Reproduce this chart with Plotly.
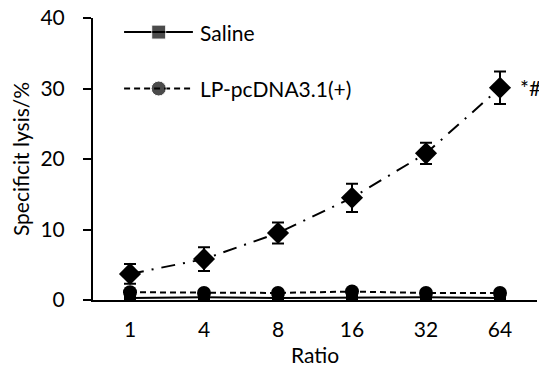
import plotly.graph_objects as go

ratios = ["1", "4", "8", "16", "32", "64"]
saline = [0.3, 0.4, 0.3, 0.4, 0.4, 0.3]
saline_err = [0.5, 0.4, 0.5, 0.5, 0.4, 0.5]
lp_pcdna = [1.1, 1.0, 1.0, 1.2, 1.0, 1.0]
lp_pcdna_err = [0.4, 0.4, 0.4, 0.4, 0.4, 0.4]
lp_gene = [3.7, 5.8, 9.5, 14.5, 20.8, 30.1]
lp_gene_err = [1.4, 1.7, 1.5, 2.0, 1.5, 2.3]
y_ticks = [0, 10, 20, 30, 40]

FONT = "Lato"
FS = 21
fig = go.Figure()

fig.add_trace(go.Scatter(
    x=ratios, y=lp_gene, mode="lines+markers",
    line=dict(color="black", width=2, dash="14px,8px,2px,8px"),
    marker=dict(symbol="diamond", size=17, color="black"),
    error_y=dict(type="data", array=lp_gene_err, color="black", thickness=2, width=6),
    showlegend=False))
fig.add_trace(go.Scatter(
    x=ratios, y=lp_pcdna, mode="lines+markers", name="LP-pcDNA3.1(+)",
    line=dict(color="black", width=2, dash="6px,4px"),
    marker=dict(symbol="circle", size=14, color="black"),
    error_y=dict(type="data", array=lp_pcdna_err, color="black", thickness=2, width=4),
    showlegend=False))
fig.add_trace(go.Scatter(
    x=ratios, y=saline, mode="lines+markers", name="Saline",
    line=dict(color="black", width=2),
    marker=dict(symbol="square", size=12, color="black"),
    error_y=dict(type="data", array=saline_err, color="black", thickness=2, width=4),
    showlegend=False))

# legend samples drawn on an overlay axis in plot-fraction units
fig.add_trace(go.Scatter(
    x=[0.07, 0.148, 0.225], y=[0.95, 0.95, 0.95], xaxis="x2", yaxis="y2",
    mode="lines+markers", line=dict(color="black", width=2),
    marker=dict(symbol="square", size=[0, 14, 0], color="black"),
    showlegend=False, hoverinfo="skip"))
fig.add_trace(go.Scatter(
    x=[0.07, 0.148, 0.225], y=[0.75, 0.75, 0.75], xaxis="x2", yaxis="y2",
    mode="lines+markers", line=dict(color="black", width=2, dash="6px,4px"),
    marker=dict(symbol="circle", size=[0, 15, 0], color="black"),
    showlegend=False, hoverinfo="skip"))

fig.add_annotation(x=0.236, y=0.95, xref="x2", yref="y2", text="Saline",
                   showarrow=False, xanchor="left", yanchor="middle",
                   font=dict(family=FONT, size=FS, color="black"))
fig.add_annotation(x=0.236, y=0.75, xref="x2", yref="y2", text="LP-pcDNA3.1(+)",
                   showarrow=False, xanchor="left", yanchor="middle",
                   font=dict(family=FONT, size=FS, color="black"))
fig.add_annotation(x=1, y=lp_gene[-1], xref="paper", yref="y", text="*#",
                   showarrow=False, xanchor="left", yanchor="middle", xshift=-19,
                   font=dict(family=FONT, size=FS, color="black"))

fig.update_layout(
    template="none",
    width=547, height=380,
    margin=dict(l=85, r=18, t=10, b=88),
    paper_bgcolor="white", plot_bgcolor="white",
    font=dict(family=FONT, size=FS, color="black"),
    xaxis=dict(type="category", range=[-0.5, 5.5], showline=True, linecolor="black",
               linewidth=2, ticks="", showgrid=False, zeroline=False, automargin=False,
               ticklabelstandoff=10, ticklabeloverflow="allow",
               title=dict(text="Ratio", font=dict(size=FS), standoff=8),
               tickfont=dict(size=FS)),
    yaxis=dict(range=[0, 40], tickvals=y_ticks, showline=True, linecolor="black",
               linewidth=2, ticks="outside", ticklen=8, tickwidth=2, tickcolor="black",
               showgrid=False, zeroline=False, ticklabelstandoff=14, automargin=False,
               ticklabeloverflow="allow",
               title=dict(text="Specificit lysis/%", font=dict(size=FS), standoff=12),
               tickfont=dict(size=FS)),
    xaxis2=dict(overlaying="x", range=[0, 1], visible=False),
    yaxis2=dict(overlaying="y", range=[0, 1], visible=False),
)

fig.write_html("out.html")
